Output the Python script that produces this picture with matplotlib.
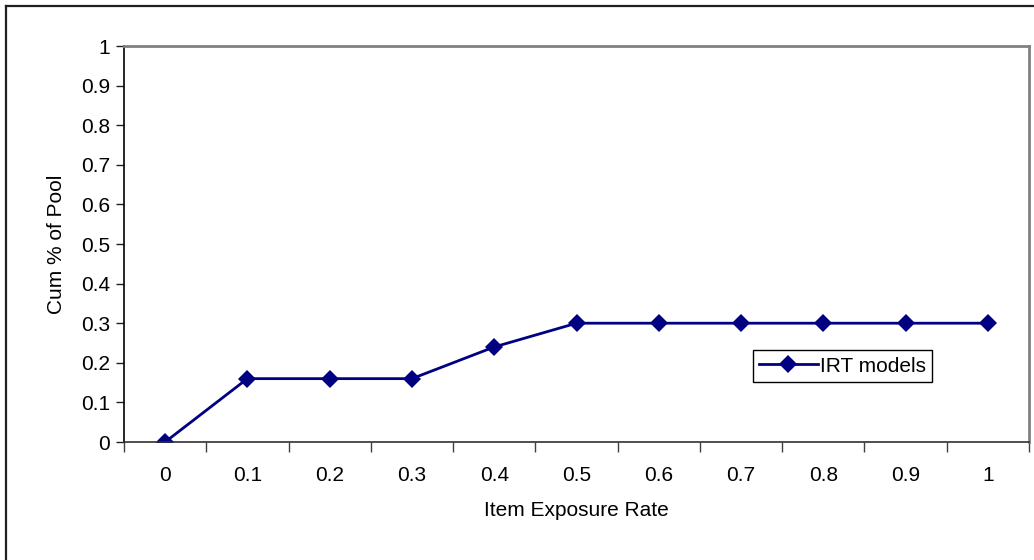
import numpy as np
import matplotlib.pyplot as plt
from matplotlib.lines import Line2D

plt.rcParams['font.family'] = ['Liberation Sans', 'DejaVu Sans']

# datos: tasa de exposicion de items vs % acumulado del pool
tasas = ['0', '0.1', '0.2', '0.3', '0.4', '0.5', '0.6', '0.7', '0.8', '0.9', '1']
cum_pool = [0, 0.16, 0.16, 0.16, 0.24, 0.30, 0.30, 0.30, 0.30, 0.30, 0.30]
y_ticks = [0, 0.1, 0.2, 0.3, 0.4, 0.5, 0.6, 0.7, 0.8, 0.9, 1]

fig = plt.figure(figsize=(10.34, 5.6), dpi=100)
ax = fig.add_axes([124/1034, 118/560, 905/1034, 396/560])

x = np.arange(len(tasas))
ax.plot(x, cum_pool, color='#000080', lw=2, marker='D', ms=9, mew=0,
        label='IRT models')

# eje x por categorias: marcas en los bordes, etiquetas al centro
ax.set_xlim(-0.5, len(tasas) - 0.5)
ax.set_xticks(np.arange(len(tasas) + 1) - 0.5)
ax.set_xticklabels([])
ax.set_xticks(x, minor=True)
ax.set_xticklabels(tasas, minor=True)
ax.tick_params(axis='x', which='major', length=7, width=1, color='#404040', direction='out')
ax.tick_params(axis='x', which='minor', length=0, pad=17, labelsize=15)

ax.set_ylim(0, 1)
ax.set_yticks(y_ticks)
ax.set_yticklabels([('%g' % v) for v in y_ticks])
ax.tick_params(axis='y', length=6, width=1, color='#202020', labelsize=15, pad=4)

ax.spines['left'].set_color('black')
ax.spines['bottom'].set_color('#303030')
ax.spines['left'].set_linewidth(1.2)
ax.spines['bottom'].set_linewidth(1.2)
ax.spines['top'].set_color('#808080')
ax.spines['right'].set_color('#808080')
ax.spines['top'].set_linewidth(2)
ax.spines['right'].set_linewidth(2)

ax.set_xlabel('Item Exposure Rate', fontsize=15, labelpad=12)
ax.set_ylabel('Cum % of Pool', fontsize=15, labelpad=11)

leg = ax.legend(loc='lower left', bbox_to_anchor=(0.695, 0.152), fontsize=15,
                fancybox=False, framealpha=1, edgecolor='black', borderaxespad=0,
                handlelength=2.8, handletextpad=0.1, borderpad=0.3)
leg.get_frame().set_linewidth(1)

# borde exterior del grafico (solo se ve arriba y a la izquierda)
fig.add_artist(Line2D([6/1034, 6/1034], [0, 1 - 6/560], color='#202020', lw=1.6,
                      transform=fig.transFigure))
fig.add_artist(Line2D([6/1034, 1], [1 - 6/560, 1 - 6/560], color='#202020', lw=1.6,
                      transform=fig.transFigure))

plt.savefig('out.png', dpi=100)
